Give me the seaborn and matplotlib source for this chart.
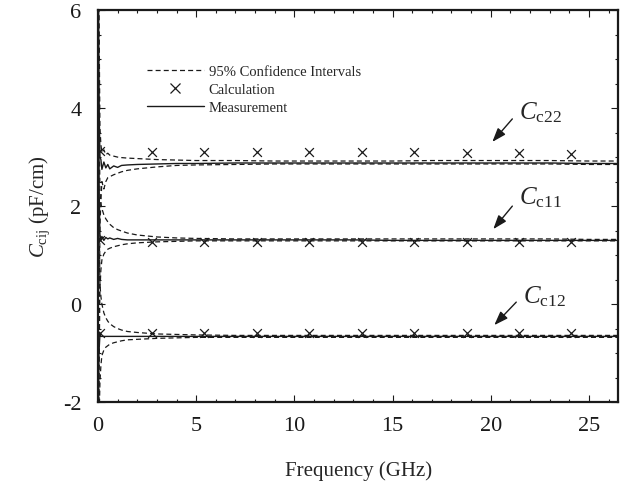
import matplotlib
matplotlib.use('Agg')
import matplotlib.pyplot as plt
from matplotlib.lines import Line2D
from matplotlib.ticker import MultipleLocator
import numpy as np
import pandas as pd
import seaborn as sns

# frequency grid of the measured curves (GHz)
freq = [0.02, 0.05, 0.1, 0.15, 0.2, 0.3, 0.4, 0.5, 0.6, 0.8, 1.0, 1.2, 1.5, 2,
        3, 4, 5, 7, 9, 11, 13, 15, 17, 19, 21, 23, 25, 26.5]

# C_c22
c22_meas = [6.5, 4.2, 3.0, 2.95, 2.75, 2.9, 2.78, 2.85, 2.76, 2.82, 2.79, 2.83, 2.84, 2.85,
            2.86, 2.87, 2.87, 2.88, 2.88, 2.88, 2.88, 2.88, 2.88, 2.88, 2.88, 2.88, 2.87, 2.87]
c22_upper = [8.0, 6.0, 3.6, 3.25, 3.1, 3.15, 3.05, 3.08, 3.04, 3.02, 3.0, 2.99, 2.98, 2.97,
             2.95, 2.94, 2.93, 2.93, 2.92, 2.92, 2.92, 2.92, 2.93, 2.93, 2.93, 2.93, 2.92, 2.92]
c22_lower = [-3.0, -1.0, 1.6, 2.1, 2.5, 2.35, 2.5, 2.58, 2.6, 2.64, 2.67, 2.7, 2.73, 2.76,
             2.8, 2.83, 2.84, 2.85, 2.86, 2.86, 2.86, 2.86, 2.86, 2.86, 2.86, 2.86, 2.85, 2.85]

# C_c11
c11_meas = [6.0, 2.5, 1.4, 1.32, 1.38, 1.3, 1.36, 1.33, 1.35, 1.32, 1.34, 1.32, 1.31, 1.31,
            1.31, 1.31, 1.31, 1.31, 1.31, 1.31, 1.31, 1.3, 1.3, 1.3, 1.3, 1.3, 1.3, 1.3]
c11_upper = [7.5, 4.0, 2.3, 2.05, 1.95, 1.82, 1.74, 1.68, 1.63, 1.56, 1.52, 1.49, 1.45, 1.41,
             1.37, 1.35, 1.34, 1.33, 1.33, 1.33, 1.33, 1.33, 1.33, 1.33, 1.33, 1.33, 1.32, 1.32]
c11_lower = [-3.0, -1.5, 0.3, 0.7, 0.9, 1.02, 1.08, 1.12, 1.14, 1.17, 1.19, 1.21, 1.23, 1.25,
             1.27, 1.28, 1.29, 1.29, 1.29, 1.29, 1.29, 1.29, 1.29, 1.29, 1.29, 1.29, 1.29, 1.29]

# C_c12
c12_meas = [-2.5, -1.0, -0.62, -0.66, -0.66, -0.66, -0.66, -0.66, -0.66, -0.66, -0.66, -0.66, -0.66, -0.66,
            -0.66, -0.66, -0.66, -0.66, -0.66, -0.66, -0.66, -0.66, -0.66, -0.66, -0.66, -0.66, -0.66, -0.66]
c12_upper = [5.0, 2.0, 0.4, 0.15, 0.0, -0.18, -0.28, -0.35, -0.4, -0.46, -0.5, -0.53, -0.56, -0.58,
             -0.61, -0.62, -0.63, -0.64, -0.64, -0.64, -0.64, -0.64, -0.64, -0.64, -0.64, -0.64, -0.64, -0.64]
c12_lower = [-4.0, -2.5, -1.6, -1.25, -1.05, -0.94, -0.88, -0.85, -0.82, -0.79, -0.77, -0.75, -0.73, -0.72,
             -0.7, -0.69, -0.68, -0.68, -0.68, -0.68, -0.68, -0.68, -0.68, -0.68, -0.68, -0.68, -0.68, -0.68]

# calculated points
freq_calc = [0.1, 2.75, 5.42, 8.09, 10.76, 13.43, 16.1, 18.77, 21.44, 24.1]
c22_calc = [3.13, 3.11, 3.11, 3.11, 3.11, 3.1, 3.1, 3.09, 3.08, 3.07]
c11_calc = [1.3, 1.27, 1.27, 1.27, 1.27, 1.27, 1.27, 1.27, 1.27, 1.27]
c12_calc = [-0.6, -0.6, -0.6, -0.6, -0.6, -0.6, -0.6, -0.6, -0.6, -0.6]

sns.set_theme(style='ticks')
plt.rcParams['font.family'] = ['Liberation Serif', 'DejaVu Serif']
plt.rcParams['mathtext.fontset'] = 'custom'
plt.rcParams['mathtext.rm'] = 'Liberation Serif'
plt.rcParams['mathtext.it'] = 'Liberation Serif:italic'
plt.rcParams['axes.unicode_minus'] = False

fig = plt.figure(figsize=(6.24, 4.85), dpi=100)
ax = fig.add_axes([0.157, 0.169, 0.834, 0.808])

for meas, up, lo in [(c22_meas, c22_upper, c22_lower),
                     (c11_meas, c11_upper, c11_lower),
                     (c12_meas, c12_upper, c12_lower)]:
    sns.lineplot(x=freq, y=up, ax=ax, color='k', lw=0.9, linestyle=(0, (4, 2.5)))
    sns.lineplot(x=freq, y=lo, ax=ax, color='k', lw=0.9, linestyle=(0, (4, 2.5)))
    sns.lineplot(x=freq, y=meas, ax=ax, color='k', lw=1.0)

calc = pd.DataFrame({'f': freq_calc * 3, 'c': c22_calc + c11_calc + c12_calc})
sns.scatterplot(data=calc, x='f', y='c', ax=ax, marker='x', color='k', s=40, linewidth=0.9)

ax.set_xlim(0, 26.5)
ax.set_ylim(-2, 6)
ax.xaxis.set_major_locator(MultipleLocator(5))
ax.xaxis.set_minor_locator(MultipleLocator(1))
ax.yaxis.set_major_locator(MultipleLocator(2))
ax.yaxis.set_minor_locator(MultipleLocator(0.5))
ax.tick_params(which='both', direction='in', top=True, right=True, labelsize=16, colors='k')
ax.tick_params(which='major', length=5, width=0.8)
ax.tick_params(which='minor', length=2.5, width=0.8)
ax.tick_params(axis='x', pad=10)
ax.tick_params(axis='y', pad=12)
for s in ax.spines.values():
    s.set_linewidth(1.6)
    s.set_color('k')

ax.set_xlabel('Frequency (GHz)', fontsize=15, labelpad=18)
ax.set_ylabel(r'$C_{\mathrm{cij}}$ (pF/cm)', fontsize=15, labelpad=8)

handles = [Line2D([], [], color='k', lw=0.9, linestyle=(0, (4, 2.5))),
           Line2D([], [], color='k', lw=0, marker='x', markersize=7, markeredgewidth=0.9),
           Line2D([], [], color='k', lw=1.0)]
ax.legend(handles, ['95% Confidence Intervals', 'Calculation', 'Measurement'],
          loc='upper left', bbox_to_anchor=(0.08, 0.88), frameon=False,
          fontsize=10.5, handlelength=3.9, handletextpad=0.35, labelspacing=0.33,
          borderpad=0)

for tail, tip, pos, name in [((21.1, 3.78), (20.08, 3.31), (21.46, 3.92), 'c22'),
                             ((21.1, 2.0), (20.13, 1.53), (21.46, 2.2), 'c11'),
                             ((21.3, 0.04), (20.18, -0.43), (21.66, 0.18), 'c12')]:
    ax.annotate('', xy=tip, xytext=tail,
                arrowprops=dict(arrowstyle='-|>,head_length=0.7,head_width=0.25',
                                color='k', lw=1.0, shrinkA=0, shrinkB=0))
    ax.text(pos[0], pos[1], r'$C_{\mathrm{%s}}$' % name, fontsize=18, ha='left', va='center')

fig.savefig('out.png', dpi=100)
